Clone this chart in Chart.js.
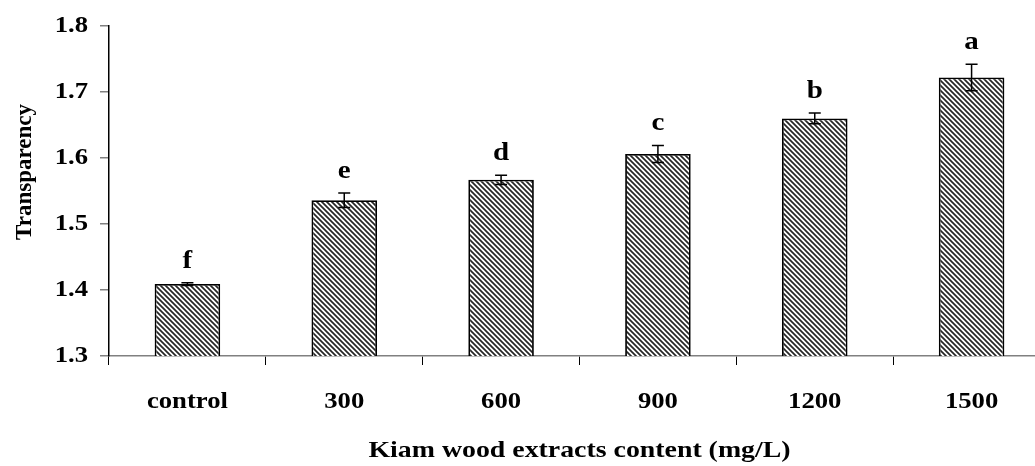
<!DOCTYPE html>
<html>
<head>
<meta charset="utf-8">
<title>Transparency vs Kiam wood extracts content</title>
<script src="https://cdn.jsdelivr.net/npm/chart.js@4.4.1/dist/chart.umd.min.js"></script>
<style>
  html, body { margin: 0; padding: 0; background: #fff; overflow: hidden; }
  #wrap { width: 1035px; height: 466px; overflow: hidden; }
  canvas { display: block; }
</style>
</head>
<body>
<div id="wrap"><canvas id="chart" width="1100" height="466"></canvas></div>
<script>
// Categories (extract concentration, mg/L)
const categories = ['control', '300', '600', '900', '1200', '1500'];
// Mean transparency per treatment
const means = [1.409, 1.536, 1.567, 1.606, 1.660, 1.722];
// Error (± half-length of the error bar)
const errors = [0.002, 0.011, 0.007, 0.013, 0.008, 0.020];
// Significance letters above each bar
const letters = ['f', 'e', 'd', 'c', 'b', 'a'];
// Y-axis tick values
const yTicks = [1.3, 1.4, 1.5, 1.6, 1.7, 1.8];

const FAMILY = '"Liberation Serif", "Times New Roman", serif';
const TEXT_STRETCH = 1.16;   // horizontal widening of the serif lettering
Chart.defaults.font.family = FAMILY;
Chart.defaults.color = '#000';

// Diagonal "\" hatch used as the bar fill
function makeHatch() {
  const t = document.createElement('canvas');
  t.width = 5; t.height = 5;
  const c = t.getContext('2d');
  c.fillStyle = '#fff';
  c.fillRect(0, 0, 5, 5);
  c.strokeStyle = '#262626';
  c.lineWidth = 1.7;
  c.beginPath();
  for (const o of [-5, 0, 5]) { c.moveTo(o - 1, -1); c.lineTo(o + 6, 6); }
  c.stroke();
  return c.createPattern(t, 'repeat');
}

// Widen every label drawn by the chart around its anchor point
const wideText = {
  id: 'wideText',
  beforeDraw(chart) {
    const ctx = chart.ctx;
    const orig = CanvasRenderingContext2D.prototype.fillText;
    ctx.fillText = function (text, x, y, maxWidth) {
      this.save();
      this.translate(x, y);
      this.scale(TEXT_STRETCH, 1);
      orig.call(this, text, 0, 0);
      this.restore();
    };
  },
  afterDraw(chart) {
    delete chart.ctx.fillText;
  }
};

// Error bars and letter labels drawn on top of the bars
const annotate = {
  id: 'annotate',
  afterDatasetsDraw(chart) {
    const ctx = chart.ctx;
    const y = chart.scales.y;
    const meta = chart.getDatasetMeta(0);
    ctx.save();
    meta.data.forEach((bar, i) => {
      const x = bar.x;
      const top = y.getPixelForValue(means[i] + errors[i]);
      const bot = y.getPixelForValue(means[i] - errors[i]);
      ctx.strokeStyle = '#000';
      ctx.lineWidth = 1.5;
      ctx.beginPath();
      ctx.moveTo(x, top); ctx.lineTo(x, bot);
      ctx.moveTo(x - 6, top); ctx.lineTo(x + 6, top);
      ctx.moveTo(x - 6, bot); ctx.lineTo(x + 6, bot);
      ctx.stroke();
      ctx.fillStyle = '#000';
      ctx.font = 'bold 25px ' + FAMILY;
      ctx.textAlign = 'center';
      ctx.textBaseline = 'alphabetic';
      ctx.fillText(letters[i], x, top - 15);
    });
    // rotated y-axis title (lettering runs along the axis, no widening)
    ctx.translate(25, 172);
    ctx.rotate(-Math.PI / 2);
    ctx.font = 'bold 23px ' + FAMILY;
    ctx.textAlign = 'center';
    ctx.textBaseline = 'middle';
    CanvasRenderingContext2D.prototype.fillText.call(ctx, 'Transparency', 0, 0);
    ctx.restore();
  }
};

new Chart(document.getElementById('chart'), {
  type: 'bar',
  data: {
    labels: categories,
    datasets: [{
      data: means,
      backgroundColor: makeHatch(),
      borderColor: '#000',
      borderWidth: 1.8,
      borderSkipped: false,
      barPercentage: 0.418,
      categoryPercentage: 1.0
    }]
  },
  options: {
    responsive: false,
    animation: false,
    layout: { padding: { top: 26, right: 50, left: 0, bottom: 0 } },
    plugins: { legend: { display: false }, tooltip: { enabled: false } },
    scales: {
      x: {
        grid: { offset: true, drawOnChartArea: false, drawTicks: true, tickLength: 9, color: '#000', lineWidth: 1 },
        border: { color: '#808080', width: 1.5 },
        ticks: { font: { size: 23, weight: 'bold' }, color: '#000', padding: 23, maxRotation: 0 },
        title: {
          display: true,
          text: 'Kiam wood extracts content (mg/L)',
          font: { size: 24, weight: 'bold' },
          color: '#000',
          padding: { top: 0, bottom: 1 }
        },
        afterFit(scale) { scale.height = 110; }
      },
      y: {
        min: 1.3,
        max: 1.8,
        afterBuildTicks(scale) { scale.ticks = yTicks.map(v => ({ value: v })); },
        grid: { drawOnChartArea: false, drawTicks: true, tickLength: 9, color: '#808080', lineWidth: 1.5 },
        border: { color: '#000', width: 1.5 },
        ticks: {
          font: { size: 23, weight: 'bold' },
          color: '#000',
          padding: 12,
          callback: v => Number(v).toFixed(1)
        },
        afterFit(scale) { scale.width = 109; }
      }
    }
  },
  plugins: [wideText, annotate]
});
</script>
</body>
</html>
